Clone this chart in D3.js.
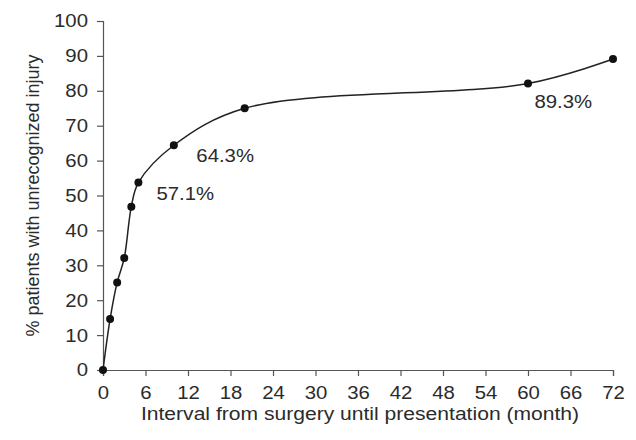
<!DOCTYPE html>
<html>
<head>
<meta charset="utf-8">
<script src="https://cdn.jsdelivr.net/npm/d3@7/dist/d3.min.js"></script>
<style>
  body { margin: 0; background: #fff; }
  svg text { font-family: "Liberation Sans", Arial, sans-serif; fill: #2b2b2b; }
</style>
</head>
<body>
<div id="chart"></div>
<script>
// data
var months = [0, 1, 2, 3, 4, 5, 10, 20, 60, 72];
var pctInjury = [0, 14.6, 25.1, 32.1, 46.8, 53.7, 64.4, 75, 82.1, 89.1];
var xTicks = [0, 6, 12, 18, 24, 30, 36, 42, 48, 54, 60, 66, 72];
var yTicks = [0, 10, 20, 30, 40, 50, 60, 70, 80, 90, 100];
var noteLabels = ['57.1%', '64.3%', '89.3%'];
var noteAt = [5, 10, 60]; // months the notes sit beside

(function(){
    var W = 636, H = 440;
    var margin = { top: 21, right: 23, bottom: 70, left: 103 };
    var width = W - margin.left - margin.right;
    var height = H - margin.top - margin.bottom;
    var stretch = 1.1; // source text looks a bit wide

    var svg = d3.select('#chart').append('svg')
        .attr('width', W).attr('height', H)
        .append('g')
        .attr('transform', 'translate(' + margin.left + ',' + margin.top + ')');

    var x = d3.scaleLinear().domain([0, 72]).range([0, width]);
    var y = d3.scaleLinear().domain([0, 100]).range([height, 0]);

    // y axis
    var yAxisG = svg.append('g')
        .call(d3.axisLeft(y).tickValues(yTicks).tickSize(6).tickSizeOuter(6));
    yAxisG.selectAll('text')
        .style('font-size', '18.5px')
        .attr('x', 0)
        .attr('transform', 'translate(-15,0) scale(' + stretch + ',1)');

    // x axis
    var xAxisG = svg.append('g')
        .attr('transform', 'translate(0,' + height + ')')
        .call(d3.axisBottom(x).tickValues(xTicks).tickSize(6).tickSizeOuter(6));
    xAxisG.selectAll('text')
        .style('font-size', '18.5px')
        .attr('y', 0)
        .attr('transform', 'translate(0,16) scale(' + stretch + ',1)');

    svg.selectAll('.domain, .tick line').attr('stroke', '#555').attr('stroke-width', 1.2);

    // curve
    var pts = months.map(function(m, i){ return { m: m, v: pctInjury[i] }; });
    var line = d3.line()
        .x(function(d){ return x(d.m); })
        .y(function(d){ return y(d.v); })
        .curve(d3.curveCatmullRom.alpha(0.5));

    svg.append('path')
        .datum(pts)
        .attr('fill', 'none')
        .attr('stroke', '#222')
        .attr('stroke-width', 1.5)
        .attr('d', line);

    svg.selectAll('circle.pt')
        .data(pts)
        .enter().append('circle')
        .attr('class', 'pt')
        .attr('cx', function(d){ return x(d.m); })
        .attr('cy', function(d){ return y(d.v); })
        .attr('r', 4)
        .attr('fill', '#111');

    // notes next to points
    var noteDx = [18, 22.5, 6.5];
    var noteDy = [17.5, 16.5, 24.5];
    noteLabels.forEach(function(t, i){
        var idx = months.indexOf(noteAt[i]);
        var tx = x(noteAt[i]) + noteDx[i];
        var ty = y(pctInjury[idx]) + noteDy[i];
        svg.append('text')
            .attr('transform', 'translate(' + tx + ',' + ty + ') scale(' + stretch + ',1)')
            .style('font-size', '18.5px')
            .text(t);
    });

    // axis titles
    svg.append('text')
        .attr('transform', 'translate(' + (width / 2 + 2) + ',' + (height + 50) + ') scale(1.14,1)')
        .attr('text-anchor', 'middle')
        .style('font-size', '18.5px')
        .text('Interval from surgery until presentation (month)');

    svg.append('text')
        .attr('transform', 'rotate(-90)')
        .attr('x', -height / 2)
        .attr('y', -64)
        .attr('text-anchor', 'middle')
        .style('font-size', '18px')
        .text('% patients with unrecognized injury');
})();
</script>
</body>
</html>
